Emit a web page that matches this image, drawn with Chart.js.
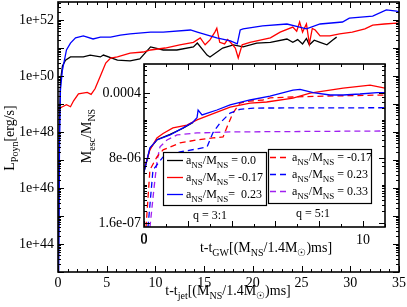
<!DOCTYPE html>
<html>
<head>
<meta charset="utf-8">
<script src="https://cdn.jsdelivr.net/npm/chart.js@4.4.0/dist/chart.umd.min.js"></script>
<style>
    body { margin: 0; background: #fff; }
    #wrap { position: relative; width: 407px; height: 307px; }
    #wrap canvas { position: absolute; left: 0; top: 0; }
</style>
</head>
<body>
<div id="wrap">
    <canvas id="mainChart" width="407" height="307"></canvas>
    <canvas id="insetChart" width="407" height="307"></canvas>
</div>
<script>
// ===============================
// MAIN PANEL DATA (t - t_jet, L_Poyn)
// ===============================
const tBlack = [0.02, 0.15, 0.26, 0.46, 0.77, 1.28, 2.6, 3.3, 4.35, 4.66, 6.1, 7.4, 8.4, 9.5, 10.8, 12.2, 13.9, 14.3, 15.3, 15.6, 16.9, 18.0, 19.0, 20.4, 21.8, 23.5, 24.1, 24.6, 25.1, 25.5, 25.8, 26.3, 26.9, 27.6, 28.2, 28.6];
const lBlack = [1e42, 2.7e48, 7.2e49, 2.3e50, 3.7e50, 4.8e50, 4.8e50, 5.6e50, 4.8e50, 5.6e50, 3.7e50, 3.5e50, 4.1e50, 1.1e51, 8.5e50, 8.5e50, 1.1e51, 1.5e51, 5.6e50, 4.8e50, 1.0e51, 1.3e51, 1.1e51, 1.5e51, 1.6e51, 2.1e51, 1.6e51, 2.0e51, 1.4e51, 2.2e51, 1.3e51, 1.9e51, 1.6e51, 1.3e51, 1.95e51, 2.45e51];

const tRed = [0, 0.46, 0.87, 1.28, 1.6, 2.1, 3.0, 3.4, 3.8, 4.35, 4.9, 5.4, 6.1, 7.4, 8.75, 9.5, 11.0, 12.5, 13.9, 14.6, 15.1, 15.6, 16.1, 16.3, 16.6, 17.1, 17.4, 17.7, 18.2, 18.5, 18.9, 19.7, 21.8, 22.8, 24.1, 24.5, 24.8, 25.1, 25.5, 25.8, 26.1, 26.4, 26.9, 27.9, 28.9, 30.2, 31.5, 32.3, 33.5, 34.75, 35];
const lRed = [6.6e48, 8.0e48, 9.5e48, 8.0e48, 1.3e49, 2.3e49, 2.6e49, 2.2e49, 3.5e49, 1.0e50, 2.9e50, 4.4e50, 4.8e50, 6.6e50, 7.2e50, 8.5e50, 1.0e51, 1.3e51, 1.6e51, 2.3e51, 1.3e51, 1.95e51, 3.7e51, 5.1e51, 1.6e51, 1.4e51, 2.0e51, 1.6e51, 1.0e51, 4.4e50, 1.3e51, 1.6e51, 2.3e51, 3.7e51, 5.6e51, 4.0e51, 8.5e51, 3.7e51, 7.2e51, 1.4e51, 5.0e51, 4.4e51, 2.7e51, 2.7e51, 3.2e51, 3.7e51, 4.8e51, 6.6e51, 7.2e51, 7.8e51, 7.6e51];

const tBlue = [0.05, 0.15, 0.25, 0.45, 0.87, 1.28, 1.8, 2.6, 3.6, 4.35, 5.4, 6.4, 7.4, 9.5, 10.8, 13.6, 14.3, 16.3, 17.7, 18.4, 18.7, 19.0, 21.0, 23.5, 24.8, 25.5, 26.9, 29.2, 29.9, 32.3, 33.7, 34.75, 35];
const lBlue = [1e42, 2.3e47, 3.2e49, 1.6e50, 8.5e50, 1.5e51, 2.3e51, 2.7e51, 2.1e51, 2.45e51, 2.45e51, 2.9e51, 3.2e51, 3.7e51, 3.7e51, 4.4e51, 3.7e51, 2.3e51, 1.8e51, 1.4e51, 4.4e51, 4.8e51, 6.2e51, 7.2e51, 5.6e51, 4.8e51, 7.2e51, 8.5e51, 1.17e52, 1.38e52, 2.29e52, 2.09e52, 1.95e52];

// ===============================
// INSET DATA (t - t_GW, M_esc/M_NS)
// ===============================
const tInBlack = [0, 0.27, 0.59, 1.19, 1.78, 2.24];
const mInBlack = [3.5e-6, 1.4e-5, 2.4e-5, 3.3e-5, 4.8e-5, 6.8e-5];

const tInRed = [0, 0.27, 0.59, 0.87, 1.32, 1.96, 2.42, 3.01, 3.93, 4.84, 5.6, 6.8, 7.58, 9.09, 10.32, 11];
const mInRed = [3.9e-6, 1.3e-5, 2.67e-5, 3.5e-5, 4.9e-5, 5.8e-5, 7.9e-5, 1.07e-4, 1.7e-4, 2.19e-4, 2.33e-4, 2.96e-4, 4.0e-4, 5.4e-4, 6.47e-4, 5.4e-4];

const tInBlue = [0, 0.27, 0.59, 1.19, 1.78, 2.24, 2.42, 2.47, 2.65, 3.33, 3.93, 4.84, 5.75, 6.8, 7.12, 7.72, 8.49, 9.09, 9.86, 10.64, 11];
const mInBlue = [3.4e-6, 1.47e-5, 2.37e-5, 3.2e-5, 4.9e-5, 7.0e-5, 9e-5, 1.44e-4, 1.07e-4, 1.44e-4, 1.95e-4, 2.63e-4, 3.34e-4, 4.78e-4, 5.0e-4, 4.1e-4, 3.55e-4, 3.55e-4, 3.77e-4, 4.1e-4, 4.1e-4];

const tInRedD = [0.09, 0.27, 0.59, 0.87, 1.64, 2.42, 3.15, 3.61, 3.79, 4.06, 4.38, 4.84, 5.43, 5.75, 6.8, 8.36, 11];
const mInRedD = [1.2e-7, 3.9e-6, 8.5e-6, 1.3e-5, 1.98e-5, 2.37e-5, 2.67e-5, 2.84e-5, 5.2e-5, 1.2e-4, 2.19e-4, 2.47e-4, 2.63e-4, 3.0e-4, 3.15e-4, 3.34e-4, 3.55e-4];

const tInBlueD = [0.18, 0.41, 0.87, 1.64, 2.42, 2.88, 3.01, 3.15, 3.47, 3.93, 4.38, 5.0, 11];
const mInBlueD = [1.2e-7, 3.9e-6, 8.5e-6, 1.15e-5, 1.38e-5, 1.56e-5, 2.37e-5, 3.7e-5, 6.6e-5, 1.2e-4, 1.5e-4, 1.62e-4, 1.65e-4];

const tInPurp = [0.27, 0.45, 0.6, 0.73, 1.05, 1.51, 2.42, 3.93, 11];
const mInPurp = [1.2e-7, 1.2e-6, 7e-6, 1.56e-5, 2.37e-5, 3.2e-5, 3.61e-5, 3.84e-5, 4.07e-5];

// ===============================
// TICK LABELS
// ===============================
const mainXLabels = [0, 5, 10, 15, 20, 25, 30, 35];
const mainYLabels = [1e44, 1e46, 1e48, 1e50, 1e52];
const insetXLabels = [0, 10];
const insetYValues = [1.6e-7, 8e-6, 4e-4];
const insetYText = ["1.6e-07", "8e-06", "0.0004"];

const SERIF = '"Liberation Serif", "DejaVu Serif", serif';
const pts = (xs, ys) => xs.map((x, i) => ({ x: x, y: ys[i] }));

// rich text with subscripts: parts = [[text, isSub], ...]
function richText(ctx, parts, x, y, size, align) {
    const big = size + "px " + SERIF;
    const small = Math.round(size * 0.72) + "px " + SERIF;
    let w = 0;
    parts.forEach(p => { ctx.font = p[1] ? small : big; w += ctx.measureText(p[0]).width; });
    let cx = align === "center" ? x - w / 2 : (align === "right" ? x - w : x);
    ctx.textAlign = "left";
    ctx.textBaseline = "alphabetic";
    parts.forEach(p => {
        ctx.font = p[1] ? small : big;
        ctx.fillText(p[0], cx, y + (p[1] ? size * 0.3 : 0));
        cx += ctx.measureText(p[0]).width;
    });
}

function near(a, b) { return Math.abs(a - b) <= Math.abs(b) * 1e-6; }

// inward ticks on all four sides + frame
const frameTicks = {
    id: "frameTicks",
    beforeDraw(chart, args, opts) {
        if (!opts.fill) return;
        const a = chart.chartArea;
        chart.ctx.save();
        chart.ctx.fillStyle = "#fff";
        chart.ctx.fillRect(a.left, a.top, a.width, a.height);
        chart.ctx.restore();
    },
    afterDatasetsDraw(chart, args, opts) {
        const { ctx, chartArea: a, scales } = chart;
        ctx.save();
        ctx.strokeStyle = "#000";
        ctx.lineWidth = 1;
        ctx.beginPath();
        scales.x.ticks.forEach(t => {
            const px = Math.round(scales.x.getPixelForValue(t.value)) + 0.5;
            const len = t.major ? 6 : 3;
            ctx.moveTo(px, a.bottom); ctx.lineTo(px, a.bottom - len);
            ctx.moveTo(px, a.top); ctx.lineTo(px, a.top + len);
        });
        scales.y.ticks.forEach(t => {
            const py = Math.round(scales.y.getPixelForValue(t.value)) + 0.5;
            if (py < a.top || py > a.bottom + 1) return;
            const len = t.major ? 6 : 3;
            ctx.moveTo(a.left, py); ctx.lineTo(a.left + len, py);
            ctx.moveTo(a.right, py); ctx.lineTo(a.right - len, py);
        });
        ctx.stroke();
        ctx.lineWidth = 1.6;
        ctx.strokeRect(a.left, a.top, a.right - a.left, a.bottom - a.top);
        ctx.restore();
    },
    afterDraw(chart, args, opts) {
        // make sure the first x label of the inset is on top
        if (!opts.firstLabel) return;
        const { ctx, chartArea: a, scales } = chart;
        const t = scales.x.ticks[0];
        if (!t || !t.label) return;
        ctx.save();
        ctx.fillStyle = "#000";
        ctx.font = "14px " + SERIF;
        ctx.textAlign = "center";
        ctx.textBaseline = "top";
        ctx.fillText(t.label, scales.x.getPixelForValue(t.value), a.bottom + 5);
        ctx.restore();
    }
};

// axis titles with subscripts
const axisTitles = {
    id: "axisTitles",
    afterDraw(chart, args, opts) {
        const ctx = chart.ctx;
        ctx.save();
        ctx.fillStyle = "#000";
        richText(ctx, opts.x.parts, opts.x.cx, opts.x.base, 14, "center");
        ctx.translate(opts.y.base, opts.y.cy);
        ctx.rotate(-Math.PI / 2);
        richText(ctx, opts.y.parts, 0, 0, 14, "center");
        ctx.restore();
    }
};

// legend boxes inside inset
const legendLeft = [
    { color: "#000000", dash: [], parts: [["a", 0], ["NS", 1], ["/M", 0], ["NS", 1], [" = 0.0", 0]] },
    { color: "#ff0000", dash: [], parts: [["a", 0], ["NS", 1], ["/M", 0], ["NS", 1], ["= -0.17", 0]] },
    { color: "#0000ff", dash: [], parts: [["a", 0], ["NS", 1], ["/M", 0], ["NS", 1], ["=  0.23", 0]] }
];
const legendRight = [
    { color: "#ff0000", dash: [6, 4], parts: [["a", 0], ["NS", 1], ["/M", 0], ["NS", 1], [" = -0.17", 0]] },
    { color: "#0000ff", dash: [6, 4], parts: [["a", 0], ["NS", 1], ["/M", 0], ["NS", 1], [" = 0.23", 0]] },
    { color: "#a020f0", dash: [6, 4], parts: [["a", 0], ["NS", 1], ["/M", 0], ["NS", 1], [" = 0.33", 0]] }
];

const insetLegend = {
    id: "insetLegend",
    afterDraw(chart) {
        const ctx = chart.ctx;
        ctx.save();
        const boxes = [
            { x: 163, y: 152, w: 103, h: 53, items: legendLeft, lx: 167, tx: 186, q: "q = 3:1", qx: 210, qy: 219 },
            { x: 268, y: 149, w: 103, h: 54, items: legendRight, lx: 270, tx: 292, q: "q = 5:1", qx: 313, qy: 217 }
        ];
        boxes.forEach(b => {
            ctx.fillStyle = "#fff";
            ctx.fillRect(b.x, b.y, b.w, b.h);
            ctx.strokeStyle = "#000";
            ctx.lineWidth = 1.2;
            ctx.setLineDash([]);
            ctx.strokeRect(b.x + 0.5, b.y + 0.5, b.w, b.h);
            b.items.forEach((it, i) => {
                const cy = b.y + 8 + i * 17;
                ctx.strokeStyle = it.color;
                ctx.lineWidth = 1.3;
                ctx.setLineDash(it.dash);
                ctx.beginPath();
                ctx.moveTo(b.lx, cy + 0.5);
                ctx.lineTo(b.lx + 16, cy + 0.5);
                ctx.stroke();
                ctx.fillStyle = "#000";
                richText(ctx, it.parts, b.tx, cy + 4, 12, "left");
            });
            ctx.setLineDash([]);
            ctx.fillStyle = "#000";
            richText(ctx, [[b.q, 0]], b.qx, b.qy, 12, "center");
        });
        ctx.restore();
    }
};

function lineSet(data, color, dash) {
    return {
        data: data,
        borderColor: color,
        borderWidth: 1.3,
        borderDash: dash || [],
        pointRadius: 0,
        tension: 0,
        fill: false
    };
}

// ===============================
// MAIN CHART
// ===============================
const mainXTicks = [];
for (let v = 0; v <= 35; v++) mainXTicks.push({ value: v, major: v % 5 === 0 });
const mainYTicks = [];
for (let e = 43; e <= 52; e++) {
    for (let k = 1; k <= 9; k++) {
        const v = k * Math.pow(10, e);
        if (v <= 4.4e52) mainYTicks.push({ value: v, major: k === 1 });
    }
}

new Chart(document.getElementById("mainChart"), {
    type: "line",
    data: {
        datasets: [
            lineSet(pts(tBlue, lBlue), "#0000ff"),
            lineSet(pts(tRed, lRed), "#ff0000"),
            lineSet(pts(tBlack, lBlack), "#000000")
        ]
    },
    options: {
        responsive: false,
        animation: false,
        events: [],
        layout: { padding: { top: 2, right: 8, left: 0, bottom: 0 } },
        plugins: {
            legend: { display: false },
            tooltip: { enabled: false },
            frameTicks: { fill: false, firstLabel: false },
            axisTitles: {
                x: { parts: [["t-t", 0], ["jet", 1], ["[(M", 0], ["NS", 1], ["/1.4M", 0], ["\u2609", 1], [")ms]", 0]], cx: 228, base: 295 },
                y: { parts: [["L", 0], ["Poyn", 1], ["[erg/s]", 0]], cy: 138, base: 14 }
            }
        },
        scales: {
            x: {
                type: "linear",
                min: 0, max: 35,
                grid: { display: false, drawTicks: false },
                border: { display: false },
                afterBuildTicks: s => { s.ticks = mainXTicks.map(t => ({ ...t })); },
                afterFit: s => { s.height = 35; s.paddingLeft = 0; s.paddingRight = 0; },
                ticks: {
                    autoSkip: false, maxRotation: 0, minRotation: 0, padding: 3,
                    color: "#000", font: { family: SERIF, size: 14 },
                    callback: v => mainXLabels.includes(v) ? String(v) : ""
                }
            },
            y: {
                type: "logarithmic",
                min: 1e43, max: 4.4e52,
                grid: { display: false, drawTicks: false },
                border: { display: false },
                afterBuildTicks: s => { s.ticks = mainYTicks.map(t => ({ ...t })); },
                afterFit: s => { s.width = 58; s.paddingTop = 0; s.paddingBottom = 0; },
                ticks: {
                    autoSkip: false, padding: 4,
                    color: "#000", font: { family: SERIF, size: 14 },
                    callback: v => mainYLabels.some(m => near(v, m)) ? "1e+" + Math.round(Math.log10(v)) : ""
                }
            }
        }
    },
    plugins: [frameTicks, axisTitles]
});

// ===============================
// INSET CHART
// ===============================
const insetXTicks = [];
for (let v = 0; v <= 11; v++) insetXTicks.push({ value: v, major: v % 2 === 0 });
const insetYTicks = [];
[1.6e-7, 8e-6, 4e-4].forEach(base => {
    insetYTicks.push({ value: base, major: true });
    for (let k = 2; k <= 9; k++) insetYTicks.push({ value: base * k, major: false });
    for (let k = 10; k <= 40; k += 10) insetYTicks.push({ value: base * k, major: false });
});

new Chart(document.getElementById("insetChart"), {
    type: "line",
    data: {
        datasets: [
            lineSet(pts(tInBlue, mInBlue), "#0000ff"),
            lineSet(pts(tInRed, mInRed), "#ff0000"),
            lineSet(pts(tInBlueD, mInBlueD), "#0000ff", [6, 4]),
            lineSet(pts(tInRedD, mInRedD), "#ff0000", [6, 4]),
            lineSet(pts(tInPurp, mInPurp), "#a020f0", [6, 4]),
            lineSet(pts(tInBlack, mInBlack), "#000000")
        ]
    },
    options: {
        responsive: false,
        animation: false,
        events: [],
        layout: { padding: { top: 64, right: 22, left: 0, bottom: 0 } },
        plugins: {
            legend: { display: false },
            tooltip: { enabled: false },
            frameTicks: { fill: true, firstLabel: true },
            axisTitles: {
                x: { parts: [["t-t", 0], ["GW", 1], ["[(M", 0], ["NS", 1], ["/1.4M", 0], ["\u2609", 1], [")ms]", 0]], cx: 266, base: 252 },
                y: { parts: [["M", 0], ["esc", 1], ["/M", 0], ["NS", 1]], cy: 136, base: 91 }
            }
        },
        scales: {
            x: {
                type: "linear",
                min: 0, max: 11,
                grid: { display: false, drawTicks: false },
                border: { display: false },
                afterBuildTicks: s => { s.ticks = insetXTicks.map(t => ({ ...t })); },
                afterFit: s => { s.height = 80; s.paddingLeft = 0; s.paddingRight = 0; },
                ticks: {
                    autoSkip: false, maxRotation: 0, minRotation: 0, padding: 5,
                    color: "#000", font: { family: SERIF, size: 14 },
                    callback: v => insetXLabels.includes(v) ? String(v) : ""
                }
            },
            y: {
                type: "logarithmic",
                min: 1.25e-7, max: 2.3e-3,
                grid: { display: false, drawTicks: false },
                border: { display: false },
                afterBuildTicks: s => { s.ticks = insetYTicks.map(t => ({ ...t })); },
                afterFit: s => { s.width = 144; s.paddingTop = 0; s.paddingBottom = 0; },
                ticks: {
                    autoSkip: false, padding: 3,
                    color: "#000", font: { family: SERIF, size: 14 },
                    callback: v => {
                        const i = insetYValues.findIndex(m => near(v, m));
                        return i >= 0 ? insetYText[i] : "";
                    }
                }
            }
        }
    },
    plugins: [frameTicks, axisTitles, insetLegend]
});
</script>
</body>
</html>
